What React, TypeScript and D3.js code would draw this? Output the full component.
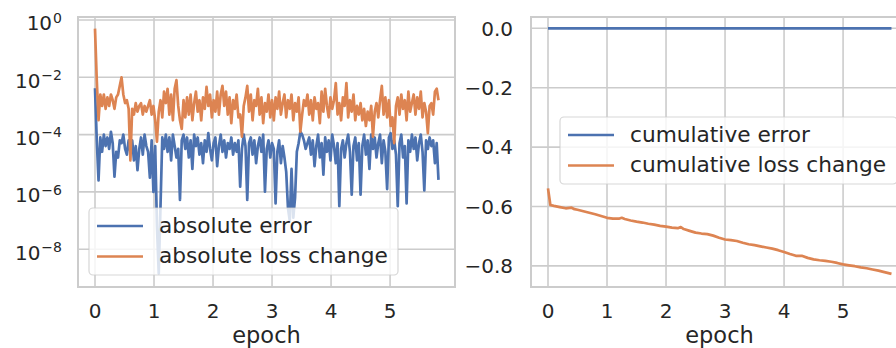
import React from "react";
import * as d3 from "d3";

// logged every STEP epochs
const STEP = 0.03;

// log10 of |loss change| per logged step
const absLossLog = [
  -0.3, -2.1, -3.5, -2.6, -3.0, -2.6, -3.1, -2.7, -3.0, -2.6,
  -2.8, -3.1, -2.7, -2.6, -2.3, -2.0, -2.6, -2.9, -2.8, -3.1,
  -4.9, -3.1, -3.3, -2.9, -3.2, -3.0, -2.9, -3.3, -3.0, -3.2,
  -3.0, -2.8, -3.3, -3.0, -3.5, -4.25, -3.2, -2.8, -3.4, -2.5,
  -2.9, -2.4, -3.3, -2.6, -3.5, -2.4, -2.1, -3.0, -3.5, -3.8,
  -2.8, -3.4, -2.7, -3.3, -2.6, -3.5, -2.9, -2.5, -3.2, -2.8,
  -3.5, -2.7, -3.1, -2.33, -3.0, -2.6, -3.4, -2.8, -3.2, -2.5,
  -3.3, -2.6, -2.3, -3.0, -2.5, -3.3, -2.7, -3.6, -2.8, -3.1,
  -2.6, -3.4, -3.3, -4.07, -3.0, -2.7, -2.3, -3.2, -2.6, -3.5,
  -2.8, -3.0, -2.4, -3.3, -2.7, -3.6, -2.9, -3.2, -2.6, -3.4,
  -2.8, -3.5, -2.7, -3.1, -2.5, -3.3, -2.9, -2.6, -3.4, -2.8,
  -3.1, -2.6, -3.5, -2.9, -3.2, -2.7, -3.9, -3.3, -2.8, -3.0,
  -2.6, -3.3, -2.8, -3.5, -2.7, -3.1, -2.9, -3.6, -2.5, -3.2,
  -2.4, -3.0, -3.4, -2.7, -3.1, -2.8, -2.2, -3.3, -2.9, -3.5,
  -2.7, -3.0, -2.2, -3.4, -2.8, -3.2, -2.6, -3.5, -3.0, -3.3,
  -2.9, -3.5, -3.1, -3.7, -3.2, -3.5, -3.0, -4.07, -3.2, -2.9,
  -3.4, -2.8, -2.3, -3.3, -2.7, -3.4, -2.8, -3.7, -3.4, -4.3,
  -3.0, -2.7, -3.3, -2.6, -3.1, -2.8, -3.5, -2.5, -3.2, -2.9,
  -2.6, -3.3, -2.7, -3.1, -2.5, -3.4, -2.9, -3.2, -3.95, -3.0,
  -2.9, -3.3, -2.5, -2.4, -2.8,
];

// log10 of |error| per logged step
const absErrLog = [
  -2.38, -4.2, -5.6, -4.1, -4.6, -4.0, -4.4, -4.1, -4.5, -3.9,
  -4.3, -5.47, -4.6, -4.8, -4.2, -4.3, -4.0, -4.5, -4.7, -4.2,
  -4.6, -4.2, -4.9, -4.4, -5.24, -4.5, -4.1, -4.7, -4.0, -4.4,
  -4.6, -5.5, -4.2, -6.0, -4.4, -7.2, -8.85, -6.5, -4.1, -4.5,
  -4.0, -4.6, -4.1, -4.9, -4.0, -4.4, -4.8, -4.5, -6.28, -4.2,
  -4.0, -4.5, -4.1, -4.8, -4.2, -5.2, -4.0, -4.4, -4.1, -4.7,
  -4.3, -5.0, -4.2, -4.6, -3.95, -4.5, -4.9, -4.3, -4.1, -5.1,
  -4.4, -4.0, -4.6, -4.2, -4.8, -4.3, -4.5, -4.1, -4.7, -4.3,
  -4.6, -4.2, -5.82, -4.5, -4.0, -4.4, -6.28, -4.3, -4.1, -4.7,
  -4.2, -5.0, -4.4, -4.1, -4.6, -4.0, -5.99, -4.5, -4.2, -4.8,
  -4.3, -4.5, -6.4, -4.6, -4.2, -5.0, -4.4, -4.8, -5.3, -6.57,
  -7.0, -5.2, -6.9, -6.2, -4.6, -4.3, -3.9, -4.0, -4.2, -4.5,
  -4.3, -4.1, -4.7, -4.2, -5.1, -4.4, -4.0, -4.8, -4.3, -5.4,
  -4.1, -4.6, -4.2, -4.9, -4.0, -4.4, -5.0, -4.3, -6.5, -4.5,
  -4.2, -4.8, -4.3, -4.0, -4.6, -6.1, -4.4, -4.1, -4.9, -4.3,
  -6.1, -4.4, -4.0, -4.7, -4.2, -5.2, -4.0, -4.5, -4.1, -4.8,
  -4.3, -4.0, -5.0, -4.2, -4.6, -5.9, -4.1, -3.95, -4.5, -4.2,
  -4.7, -6.5, -4.3, -4.0, -4.8, -4.4, -6.4, -4.2, -4.6, -4.0,
  -4.5, -4.1, -4.9, -4.3, -4.0, -4.6, -5.95, -4.2, -4.5, -4.1,
  -4.4, -4.2, -5.0, -4.3, -5.58,
];

const cumEpochs = [
  0, 0.04, 0.1, 0.2, 0.3, 0.4, 0.45, 0.5, 0.6, 0.7, 0.8, 0.9, 1.0, 1.1, 1.2, 1.25,
  1.3, 1.4, 1.5, 1.6, 1.7, 1.8, 1.9, 2.0, 2.1, 2.2, 2.25, 2.3, 2.4, 2.5, 2.6, 2.7,
  2.8, 2.9, 3.0, 3.1, 3.2, 3.3, 3.4, 3.5, 3.6, 3.7, 3.8, 3.9, 4.0, 4.1, 4.2, 4.3,
  4.4, 4.5, 4.6, 4.7, 4.8, 4.9, 5.0, 5.1, 5.2, 5.3, 5.4, 5.5, 5.6, 5.7, 5.82,
];
const cumLoss = [
  -0.539, -0.595, -0.598, -0.602, -0.606, -0.604, -0.609, -0.611, -0.616, -0.621, -0.626,
  -0.632, -0.638, -0.641, -0.641, -0.638, -0.642, -0.647, -0.651, -0.654, -0.658, -0.661,
  -0.665, -0.668, -0.671, -0.673, -0.669, -0.676, -0.682, -0.688, -0.691, -0.693, -0.698,
  -0.705, -0.711, -0.713, -0.716, -0.722, -0.727, -0.73, -0.734, -0.738, -0.742, -0.747,
  -0.753, -0.76, -0.766, -0.766, -0.773, -0.778, -0.781, -0.783, -0.786, -0.79, -0.795,
  -0.798, -0.801, -0.805, -0.808, -0.812, -0.816, -0.821, -0.827,
];
const cumErrEpochs = [0, 1, 2, 3, 4, 5, 5.82];
const cumErr = [0, 0, 0, 0, 0, 0, 0];

const xTicks = [0, 1, 2, 3, 4, 5];
const logTicks = [0, -2, -4, -6, -8];
const linTicks = [0, -0.2, -0.4, -0.6, -0.8];

const W = 896;
const H = 348;
const BLUE = "#4c72b0";
const ORANGE = "#dd8452";
const GRID = "#cccccc";
const INK = "#262626";
const FONT = "'DejaVu Sans', sans-serif";
const TOP = 17;
const BOTTOM = 287;
const X_DOMAIN: [number, number] = [-0.288, 6.1];

type Pt = [number, number];

const minus = (s: string) => s.replace("-", "\u2212");

function Legend({ x, y, w, items }: { x: number; y: number; w: number; items: { label: string; color: string }[] }) {
  const h = 67;
  return (
    <g>
      <rect x={x} y={y} width={w} height={h} rx={4} fill="white" fillOpacity={0.8} stroke={GRID} strokeOpacity={0.8} strokeWidth={1.2} />
      {items.map((it, i) => {
        const cy = y + 18 + i * 30.5;
        return (
          <g key={it.label}>
            <line x1={x + 8} x2={x + 54} y1={cy} y2={cy} stroke={it.color} strokeWidth={2.7} />
            <text x={x + 70} y={cy + 6.8} fill={INK} fontSize={21.7} fontFamily={FONT}>
              {it.label}
            </text>
          </g>
        );
      })}
    </g>
  );
}

function Panel({
  id,
  x0,
  x1,
  y,
  yTicks,
  tickLabel,
  series,
  legend,
}: {
  id: string;
  x0: number;
  x1: number;
  y: (v: number) => number;
  yTicks: number[];
  tickLabel: (v: number) => React.ReactNode;
  series: { pts: Pt[]; color: string }[];
  legend: React.ReactNode;
}) {
  const x = d3.scaleLinear().domain(X_DOMAIN).range([x0, x1]);
  const line = d3
    .line<Pt>()
    .x((d) => x(d[0]))
    .y((d) => y(d[1]));
  return (
    <g>
      <defs>
        <clipPath id={id}>
          <rect x={x0} y={TOP} width={x1 - x0} height={BOTTOM - TOP} />
        </clipPath>
      </defs>
      {xTicks.map((t) => (
        <line key={"gx" + t} x1={x(t)} x2={x(t)} y1={TOP} y2={BOTTOM} stroke={GRID} strokeWidth={1.6} />
      ))}
      {yTicks.map((t) => (
        <line key={"gy" + t} x1={x0} x2={x1} y1={y(t)} y2={y(t)} stroke={GRID} strokeWidth={1.6} />
      ))}
      <g clipPath={`url(#${id})`}>
        {series.map((s, i) => (
          <path key={i} d={line(s.pts) ?? ""} fill="none" stroke={s.color} strokeWidth={2.7} strokeLinejoin="round" />
        ))}
      </g>
      <rect x={x0} y={TOP} width={x1 - x0} height={BOTTOM - TOP} fill="none" stroke={GRID} strokeWidth={2} />
      {xTicks.map((t) => (
        <text key={"tx" + t} x={x(t)} y={318} textAnchor="middle" fill={INK} fontSize={20} fontFamily={FONT}>
          {t}
        </text>
      ))}
      {yTicks.map((t) => (
        <g key={"ty" + t}>{tickLabel(t)}</g>
      ))}
      <text x={(x0 + x1) / 2} y={343} textAnchor="middle" fill={INK} fontSize={22.5} fontFamily={FONT}>
        epoch
      </text>
      {legend}
    </g>
  );
}

export default function App() {
  const yLog = d3.scaleLog().domain([10 ** -9.32, 10 ** 0.105]).range([BOTTOM, TOP]);
  const yLin = d3.scaleLinear().domain([-0.871, 0.038]).range([BOTTOM, TOP]);

  const errPts: Pt[] = absErrLog.map((v, i) => [i * STEP, 10 ** v]);
  const lossPts: Pt[] = absLossLog.map((v, i) => [i * STEP, 10 ** v]);
  const cumErrPts: Pt[] = cumErrEpochs.map((e, i) => [e, cumErr[i]]);
  const cumLossPts: Pt[] = cumEpochs.map((e, i) => [e, cumLoss[i]]);

  return (
    <>
      <style>{`body{margin:0;background:#fff}`}</style>
      <svg width={W} height={H} style={{ display: "block" }}>
        <rect width={W} height={H} fill="white" />
        <Panel
          id="clip-left"
          x0={78}
          x1={455}
          y={(v) => yLog(v)}
          yTicks={logTicks.map((e) => 10 ** e)}
          tickLabel={(v) => {
            const e = Math.round(Math.log10(v));
            return (
              <text x={62} y={yLog(v) + 10.4} textAnchor="end" fill={INK} fontFamily={FONT} fontSize={20}>
                <tspan>10</tspan>
                <tspan dx={1} dy={-7.6} fontSize={14}>
                  {minus(String(e))}
                </tspan>
              </text>
            );
          }}
          series={[
            { pts: errPts, color: BLUE },
            { pts: lossPts, color: ORANGE },
          ]}
          legend={
            <Legend
              x={89}
              y={208}
              w={309}
              items={[
                { label: "absolute error", color: BLUE },
                { label: "absolute loss change", color: ORANGE },
              ]}
            />
          }
        />
        <Panel
          id="clip-right"
          x0={531}
          x1={908}
          y={(v) => yLin(v)}
          yTicks={linTicks}
          tickLabel={(v) => (
            <text x={513} y={yLin(v) + 7.3} textAnchor="end" fill={INK} fontFamily={FONT} fontSize={20}>
              {minus(v.toFixed(1))}
            </text>
          )}
          series={[
            { pts: cumErrPts, color: BLUE },
            { pts: cumLossPts, color: ORANGE },
          ]}
          legend={
            <Legend
              x={560}
              y={117}
              w={337}
              items={[
                { label: "cumulative error", color: BLUE },
                { label: "cumulative loss change", color: ORANGE },
              ]}
            />
          }
        />
      </svg>
    </>
  );
}
